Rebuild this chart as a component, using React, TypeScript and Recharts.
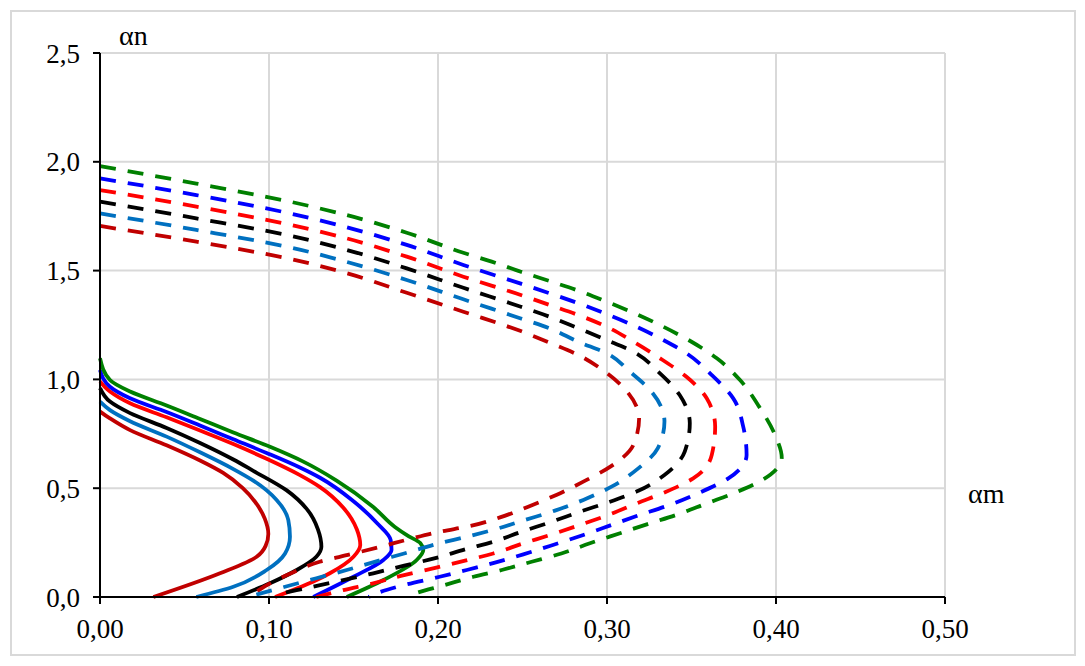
import { LineChart, Line, XAxis, YAxis, CartesianGrid } from "recharts";

type Pt = [number, number];

const xTicks = [0, 0.1, 0.2, 0.3, 0.4, 0.5];
const yTicks = [0, 0.5, 1, 1.5, 2, 2.5];

// solid curves (αm, αn)
const solidDarkRed: Pt[] = [
  [0, 0.852], [0.0059, 0.821], [0.0178, 0.767], [0.0394, 0.697], [0.0592, 0.627], [0.0729, 0.57],
  [0.0845, 0.5], [0.0915, 0.44], [0.0975, 0.36], [0.0996, 0.29], [0.098, 0.235], [0.0927, 0.185],
  [0.071, 0.109], [0.0316, 0],
];
const solidLightBlue: Pt[] = [
  [0, 0.898], [0.0059, 0.859], [0.0178, 0.808], [0.0394, 0.737], [0.0592, 0.665], [0.0789, 0.588],
  [0.0907, 0.535], [0.1045, 0.446], [0.1114, 0.354], [0.1124, 0.277], [0.1095, 0.2], [0.0986, 0.124],
  [0.0789, 0.047], [0.057, 0],
];
const solidBlack: Pt[] = [
  [0, 0.96], [0.0059, 0.898], [0.0178, 0.845], [0.0394, 0.777], [0.0592, 0.708], [0.0789, 0.632],
  [0.0907, 0.58], [0.1105, 0.49], [0.1223, 0.405], [0.129, 0.31], [0.131, 0.231], [0.128, 0.185],
  [0.1164, 0.124], [0.1006, 0.063], [0.081, 0],
];
const solidRed: Pt[] = [
  [0, 0.99], [0.0059, 0.944], [0.0178, 0.89], [0.0394, 0.826], [0.0592, 0.765], [0.0789, 0.703],
  [0.0986, 0.635], [0.1183, 0.56], [0.1302, 0.505], [0.144, 0.41], [0.152, 0.31], [0.154, 0.239],
  [0.15, 0.185], [0.136, 0.109], [0.126, 0.07], [0.1036, 0],
];
const solidBlue: Pt[] = [
  [0, 1.043], [0.0059, 0.966], [0.0178, 0.913], [0.0394, 0.85], [0.0592, 0.788], [0.0789, 0.725],
  [0.0986, 0.662], [0.1183, 0.595], [0.1302, 0.548], [0.15, 0.44], [0.164, 0.339], [0.172, 0.262],
  [0.1725, 0.216], [0.1677, 0.17], [0.15, 0.093], [0.1262, 0],
];
const solidGreen: Pt[] = [
  [0, 1.097], [0.0059, 0.997], [0.0178, 0.944], [0.0394, 0.88], [0.0592, 0.818], [0.0789, 0.756],
  [0.1006, 0.69], [0.1203, 0.622], [0.14, 0.535], [0.1615, 0.415], [0.1745, 0.322], [0.1825, 0.28],
  [0.1895, 0.248], [0.1913, 0.216], [0.1874, 0.17], [0.1677, 0.078], [0.146, 0],
];

// dashed curves (αm, αn)
const dashedDarkRed: Pt[] = [
  [0, 1.705], [0.057, 1.633], [0.1105, 1.557], [0.146, 1.488], [0.1815, 1.398], [0.215, 1.311],
  [0.249, 1.222], [0.266, 1.169], [0.283, 1.112], [0.298, 1.04], [0.312, 0.943], [0.319, 0.821],
  [0.3156, 0.699], [0.302, 0.599], [0.286, 0.53], [0.27, 0.469], [0.2534, 0.415], [0.2367, 0.366],
  [0.219, 0.326], [0.201, 0.3], [0.183, 0.266], [0.166, 0.231], [0.148, 0.196], [0.13, 0.162],
  [0.113, 0.109], [0.097, 0.047], [0.091, 0.015],
];
const dashedLightBlue: Pt[] = [
  [0, 1.763], [0.057, 1.687], [0.1105, 1.61], [0.146, 1.54], [0.1815, 1.457], [0.215, 1.368],
  [0.249, 1.28], [0.266, 1.235], [0.283, 1.173], [0.2998, 1.12], [0.3136, 1.035], [0.3264, 0.943],
  [0.334, 0.806], [0.33, 0.683], [0.3185, 0.591], [0.3027, 0.507], [0.286, 0.446], [0.2692, 0.397],
  [0.2515, 0.354], [0.2337, 0.311], [0.217, 0.277], [0.2, 0.245], [0.18, 0.2], [0.164, 0.165],
  [0.146, 0.124], [0.128, 0.086], [0.1095, 0.047], [0.0917, 0.009],
];
const dashedBlack: Pt[] = [
  [0, 1.817], [0.057, 1.74], [0.1105, 1.664], [0.146, 1.595], [0.1815, 1.51], [0.215, 1.421],
  [0.249, 1.334], [0.266, 1.288], [0.283, 1.235], [0.2998, 1.181], [0.3156, 1.127], [0.3304, 1.035],
  [0.343, 0.928], [0.349, 0.798], [0.346, 0.668], [0.334, 0.561], [0.3185, 0.488], [0.3018, 0.438],
  [0.284, 0.392], [0.2673, 0.346], [0.2495, 0.3], [0.2327, 0.254], [0.216, 0.219], [0.199, 0.18],
  [0.18, 0.144], [0.1617, 0.109], [0.144, 0.078], [0.126, 0.047], [0.1085, 0.017], [0.104, 0],
];
const dashedRed: Pt[] = [
  [0, 1.87], [0.057, 1.794], [0.1105, 1.714], [0.146, 1.648], [0.1815, 1.564], [0.215, 1.472],
  [0.249, 1.388], [0.266, 1.342], [0.283, 1.296], [0.2998, 1.242], [0.3156, 1.173], [0.3314, 1.097],
  [0.347, 1.012], [0.359, 0.913], [0.364, 0.783], [0.362, 0.653], [0.351, 0.545], [0.335, 0.484],
  [0.3175, 0.43], [0.3008, 0.377], [0.284, 0.331], [0.2663, 0.285], [0.2495, 0.244], [0.2327, 0.2],
  [0.216, 0.167], [0.199, 0.135], [0.178, 0.097], [0.1617, 0.063], [0.144, 0.032], [0.128, 0],
];
const dashedBlue: Pt[] = [
  [0, 1.924], [0.057, 1.847], [0.1105, 1.766], [0.146, 1.699], [0.1815, 1.618], [0.215, 1.526],
  [0.249, 1.44], [0.266, 1.396], [0.283, 1.35], [0.2998, 1.3], [0.3175, 1.242], [0.3333, 1.181],
  [0.347, 1.12], [0.362, 1.02], [0.3747, 0.913], [0.3806, 0.783], [0.3826, 0.653], [0.3718, 0.545],
  [0.354, 0.477], [0.336, 0.42], [0.3175, 0.372], [0.3027, 0.331], [0.286, 0.285], [0.268, 0.239],
  [0.2505, 0.196], [0.2337, 0.158], [0.217, 0.124], [0.201, 0.093], [0.18, 0.055], [0.1637, 0.017],
  [0.159, 0],
];
const dashedGreen: Pt[] = [
  [0, 1.98], [0.057, 1.9], [0.1105, 1.82], [0.146, 1.755], [0.1815, 1.674], [0.215, 1.582],
  [0.2318, 1.541], [0.249, 1.495], [0.266, 1.452], [0.283, 1.408], [0.2998, 1.357], [0.3175, 1.3],
  [0.3333, 1.242], [0.35, 1.173], [0.365, 1.097], [0.3787, 0.997], [0.39, 0.875], [0.3994, 0.745],
  [0.4034, 0.64], [0.3927, 0.541], [0.3757, 0.479], [0.359, 0.43], [0.341, 0.377], [0.324, 0.335],
  [0.3077, 0.293], [0.2899, 0.247], [0.273, 0.2], [0.2554, 0.162], [0.2377, 0.124], [0.221, 0.093],
  [0.204, 0.055], [0.185, 0.012], [0.182, 0],
];

const series = [
  { id: "s1", pts: solidDarkRed, color: "#C00000", dashed: false },
  { id: "s2", pts: solidLightBlue, color: "#0070C0", dashed: false },
  { id: "s3", pts: solidBlack, color: "#000000", dashed: false },
  { id: "s4", pts: solidRed, color: "#FF0000", dashed: false },
  { id: "s5", pts: solidBlue, color: "#0000FF", dashed: false },
  { id: "s6", pts: solidGreen, color: "#008000", dashed: false },
  { id: "d1", pts: dashedDarkRed, color: "#C00000", dashed: true },
  { id: "d2", pts: dashedLightBlue, color: "#0070C0", dashed: true },
  { id: "d3", pts: dashedBlack, color: "#000000", dashed: true },
  { id: "d4", pts: dashedRed, color: "#FF0000", dashed: true },
  { id: "d5", pts: dashedBlue, color: "#0000FF", dashed: true },
  { id: "d6", pts: dashedGreen, color: "#008000", dashed: true },
];

const font = '"Liberation Serif", "Times New Roman", serif';
const fmtX = (v: number) => v.toFixed(2).replace(".", ",");
const fmtY = (v: number) => v.toFixed(1).replace(".", ",");
const axisStyle = { stroke: "#000", strokeWidth: 2 };

export default function App() {
  return (
    <div style={{ position: "absolute", left: 0, top: 0, width: 1085, height: 666, background: "#fff", fontFamily: font }}>
      <div
        style={{
          position: "absolute", left: 10, top: 10, width: 1066, height: 646,
          border: "2px solid #d9d9d9", boxSizing: "border-box",
        }}
      />
      <LineChart
        width={1085}
        height={666}
        margin={{ top: 53, right: 140, bottom: 29, left: 40 }}
        style={{ position: "absolute", left: 0, top: 0 }}
      >
        <CartesianGrid stroke="#d9d9d9" strokeWidth={2} />
        <XAxis
          type="number"
          dataKey="m"
          domain={[0, 0.5]}
          ticks={xTicks}
          tickFormatter={fmtX}
          height={40}
          axisLine={axisStyle}
          tickLine={axisStyle}
          tickSize={7}
          tickMargin={15}
          tick={{ fill: "#000", fontSize: 27, fontFamily: font }}
        />
        <YAxis
          type="number"
          domain={[0, 2.5]}
          ticks={yTicks}
          tickFormatter={fmtY}
          width={60}
          axisLine={axisStyle}
          tickLine={axisStyle}
          tickSize={7}
          tickMargin={13}
          tick={{ fill: "#000", fontSize: 27, fontFamily: font }}
        />
        {series.map((s) => (
          <Line
            key={s.id}
            data={s.pts.map(([m, n]) => ({ m, n }))}
            dataKey="n"
            type="monotoneY"
            stroke={s.color}
            strokeWidth={3.8}
            strokeDasharray={s.dashed ? "16 12" : undefined}
            dot={false}
            activeDot={false}
            isAnimationActive={false}
          />
        ))}
      </LineChart>
      <svg width={1085} height={666} style={{ position: "absolute", left: 0, top: 0, pointerEvents: "none" }}>
        <text x={119} y={45} fontSize={28} fontFamily={font} fill="#000">αn</text>
        <text x={968} y={503} fontSize={28} fontFamily={font} fill="#000">αm</text>
      </svg>
    </div>
  );
}
